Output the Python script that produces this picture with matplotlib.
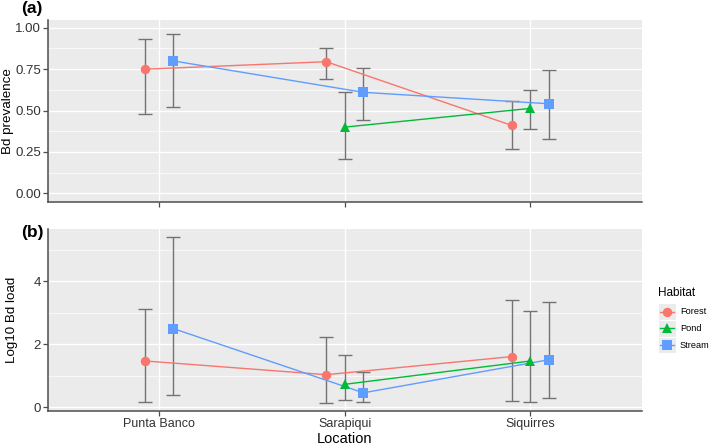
import matplotlib
matplotlib.use("Agg")
import matplotlib.pyplot as plt
from matplotlib.lines import Line2D
from matplotlib.patches import Rectangle
import numpy as np

plt.rcParams['font.family'] = ['Liberation Sans', 'DejaVu Sans']

locations = ["Punta Banco", "Sarapiqui", "Siquirres"]
habitats = ["Forest", "Pond", "Stream"]
colors = {"Forest": "#F8766D", "Pond": "#00BA38", "Stream": "#619CFF"}
markers = {"Forest": "o", "Pond": "^", "Stream": "s"}

# (a) Bd prevalence: value, lower, upper (None when habitat absent)
prev_forest = [0.75, 0.795, 0.41]
prev_forest_lo = [0.477, 0.69, 0.27]
prev_forest_hi = [0.93, 0.875, 0.557]
prev_pond = [None, 0.40, 0.513]
prev_pond_lo = [None, 0.21, 0.386]
prev_pond_hi = [None, 0.61, 0.626]
prev_stream = [0.80, 0.61, 0.541]
prev_stream_lo = [0.52, 0.445, 0.326]
prev_stream_hi = [0.96, 0.757, 0.743]

# (b) Log10 Bd load
load_forest = [1.47, 1.035, 1.61]
load_forest_lo = [0.17, 0.14, 0.20]
load_forest_hi = [3.13, 2.22, 3.41]
load_pond = [None, 0.73, 1.47]
load_pond_lo = [None, 0.22, 0.16]
load_pond_hi = [None, 1.65, 3.05]
load_stream = [2.50, 0.46, 1.51]
load_stream_lo = [0.38, 0.16, 0.30]
load_stream_hi = [5.41, 1.11, 3.33]

prev = {"Forest": (prev_forest, prev_forest_lo, prev_forest_hi),
        "Pond": (prev_pond, prev_pond_lo, prev_pond_hi),
        "Stream": (prev_stream, prev_stream_lo, prev_stream_hi)}
load = {"Forest": (load_forest, load_forest_lo, load_forest_hi),
        "Pond": (load_pond, load_pond_lo, load_pond_hi),
        "Stream": (load_stream, load_stream_lo, load_stream_hi)}

W, H = 709, 445
fig = plt.figure(figsize=(W / 100, H / 100), dpi=100)

def dodge_positions(data):
    # ggplot-like position_dodge(width=0.3)
    pos = {h: [None] * len(locations) for h in habitats}
    width = 0.3
    for i in range(len(locations)):
        present = [h for h in habitats if data[h][0][i] is not None]
        n = len(present)
        for k, h in enumerate(present):
            off = (k - (n - 1) / 2) * width / n
            pos[h][i] = i + 1 + off
    return pos

def panel(ax, data, ylim, majors, major_labels, minors, ylabel, tag, tag_y):
    ax.set_facecolor("#EBEBEB")
    ax.set_xlim(0.4, 3.6)
    ax.set_ylim(*ylim)
    ax.set_yticks(majors)
    ax.set_yticklabels(major_labels)
    ax.set_yticks(minors, minor=True)
    ax.set_xticks([1, 2, 3])
    ax.grid(True, which="major", color="white", linewidth=1.0)
    ax.grid(True, which="minor", axis="y", color="white", linewidth=0.5)
    ax.set_axisbelow(True)
    for s in ["top", "right"]:
        ax.spines[s].set_visible(False)
    for s in ["left", "bottom"]:
        ax.spines[s].set_color("#4D4D4D")
        ax.spines[s].set_linewidth(1.1)
    ax.tick_params(which="major", length=3.5, width=0.9, color="#4D4D4D",
                   labelsize=9.5, labelcolor="#333333", pad=1.5)
    ax.tick_params(which="minor", length=0)
    ax.set_ylabel(ylabel, fontsize=9.6)
    pos = dodge_positions(data)
    for h in habitats:
        vals, lo, hi = data[h]
        xs = [pos[h][i] for i in range(3) if vals[i] is not None]
        ys = [vals[i] for i in range(3) if vals[i] is not None]
        los = [lo[i] for i in range(3) if vals[i] is not None]
        his = [hi[i] for i in range(3) if vals[i] is not None]
        ax.errorbar(xs, ys, yerr=[np.array(ys) - np.array(los), np.array(his) - np.array(ys)],
                    fmt="none", ecolor="#737373", elinewidth=1.0, capsize=5.3,
                    capthick=1.0, zorder=2)
        ax.plot(xs, ys, color=colors[h], linewidth=1.0, zorder=3)
        ax.plot(xs, ys, linestyle="none", marker=markers[h], color=colors[h],
                markersize=6.8, markeredgewidth=0, zorder=4)
    fig.text(21 / W, 1 - tag_y / H, tag, fontsize=12.5, fontweight="bold",
             ha="left", va="center")

ax1 = fig.add_axes([48 / W, 1 - 202 / H, (641.7 - 48) / W, (202 - 20) / H])
ax2 = fig.add_axes([48 / W, 1 - 411.3 / H, (641.7 - 48) / W, (411.3 - 229) / H])

panel(ax1, prev, (-0.0525, 1.047), [0, 0.25, 0.5, 0.75, 1.0],
      ["0.00", "0.25", "0.50", "0.75", "1.00"], [0.125, 0.375, 0.625, 0.875],
      "Bd prevalence", "(a)", 9)
panel(ax2, load, (-0.127, 5.66), [0, 2, 4], ["0", "2", "4"], [1, 3, 5],
      "Log10 Bd load", "(b)", 233)

ax1.set_xticklabels([])
ax2.set_xticklabels(locations)
ax2.tick_params(axis="x", labelsize=9)
ax2.set_xlabel("Location", fontsize=10.5, labelpad=1)
ax1.yaxis.set_label_coords(-0.058, 0.5)
ax2.yaxis.set_label_coords(-0.051, 0.5)

# legend drawn manually
fig.text(658 / W, 1 - 292.5 / H, "Habitat", fontsize=8.5, ha="left", va="center")
key_ys = [311.7, 328.3, 345.0]
for h, ky in zip(habitats, key_ys):
    fig.patches.append(Rectangle((658 / W, 1 - (ky + 8.3) / H), 17.5 / W, 16.6 / H,
                                 transform=fig.transFigure, facecolor="#EBEBEB",
                                 edgecolor="white", linewidth=0.8))
    fig.lines.append(Line2D([659.5 / W, 674 / W], [1 - ky / H, 1 - ky / H],
                            transform=fig.transFigure, color=colors[h], linewidth=1.0))
    fig.lines.append(Line2D([666.7 / W], [1 - ky / H], transform=fig.transFigure,
                            marker=markers[h], color=colors[h], markersize=6.8,
                            markeredgewidth=0, linestyle="none"))
    fig.text(680 / W, 1 - ky / H, h, fontsize=6.6, ha="left", va="center")

fig.savefig("out.png", dpi=100)
